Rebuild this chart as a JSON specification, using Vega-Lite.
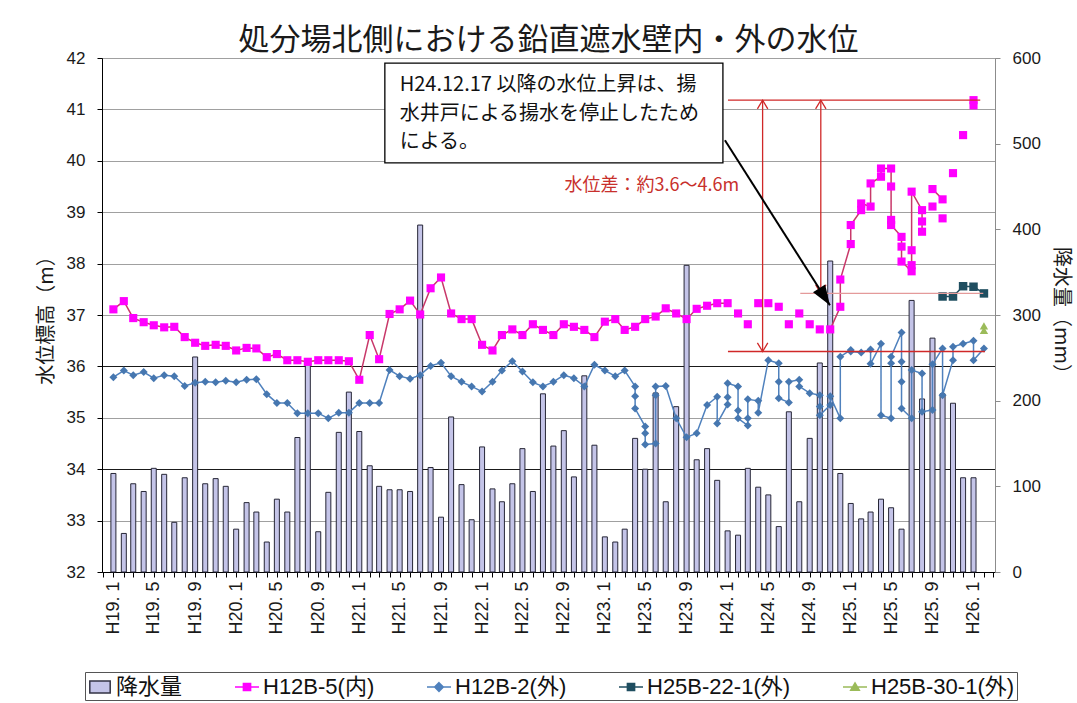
{
  "$schema": "https://vega.github.io/schema/vega-lite/v6.json",
  "width": 893,
  "height": 514,
  "autosize": {"type": "none"},
  "padding": {"left": 102, "top": 58, "right": 82, "bottom": 131},
  "background": "#ffffff",
  "config": {
    "view": {"stroke": "#8c8c8c"},
    "axis": {"labelFont": "Liberation Sans", "titleFont": "Noto Sans CJK JP", "titleFontWeight": "normal", "labelColor": "#1a1a1a", "titleColor": "#1a1a1a"}
  },
  "title": {"text": "処分場北側における鉛直遮水壁内・外の水位", "font": "Noto Sans CJK JP", "fontSize": 31, "fontWeight": "normal", "color": "#1a1a1a", "anchor": "middle", "frame": "group", "offset": -8},
  "datasets": {
    "rain": [
      {"date":"2007/01/01","rain":115},{"date":"2007/02/01","rain":45},{"date":"2007/03/01","rain":103},{"date":"2007/04/01","rain":94},{"date":"2007/05/01","rain":121},{"date":"2007/06/01","rain":114},{"date":"2007/07/01","rain":58},{"date":"2007/08/01","rain":110},{"date":"2007/09/01","rain":251},{"date":"2007/10/01","rain":103},{"date":"2007/11/01","rain":109},{"date":"2007/12/01","rain":100},
      {"date":"2008/01/01","rain":50},{"date":"2008/02/01","rain":81},{"date":"2008/03/01","rain":70},{"date":"2008/04/01","rain":35},{"date":"2008/05/01","rain":85},{"date":"2008/06/01","rain":70},{"date":"2008/07/01","rain":157},{"date":"2008/08/01","rain":242},{"date":"2008/09/01","rain":47},{"date":"2008/10/01","rain":93},{"date":"2008/11/01","rain":163},{"date":"2008/12/01","rain":210},
      {"date":"2009/01/01","rain":164},{"date":"2009/02/01","rain":124},{"date":"2009/03/01","rain":100},{"date":"2009/04/01","rain":96},{"date":"2009/05/01","rain":96},{"date":"2009/06/01","rain":94},{"date":"2009/07/01","rain":405},{"date":"2009/08/01","rain":122},{"date":"2009/09/01","rain":64},{"date":"2009/10/01","rain":181},{"date":"2009/11/01","rain":102},{"date":"2009/12/01","rain":61},
      {"date":"2010/01/01","rain":146},{"date":"2010/02/01","rain":97},{"date":"2010/03/01","rain":82},{"date":"2010/04/01","rain":103},{"date":"2010/05/01","rain":144},{"date":"2010/06/01","rain":94},{"date":"2010/07/01","rain":208},{"date":"2010/08/01","rain":147},{"date":"2010/09/01","rain":165},{"date":"2010/10/01","rain":111},{"date":"2010/11/01","rain":229},{"date":"2010/12/01","rain":148},
      {"date":"2011/01/01","rain":41},{"date":"2011/02/01","rain":35},{"date":"2011/03/01","rain":50},{"date":"2011/04/01","rain":156},{"date":"2011/05/01","rain":120},{"date":"2011/06/01","rain":209},{"date":"2011/07/01","rain":82},{"date":"2011/08/01","rain":193},{"date":"2011/09/01","rain":358},{"date":"2011/10/01","rain":131},{"date":"2011/11/01","rain":144},{"date":"2011/12/01","rain":107},
      {"date":"2012/01/01","rain":48},{"date":"2012/02/01","rain":43},{"date":"2012/03/01","rain":121},{"date":"2012/04/01","rain":99},{"date":"2012/05/01","rain":90},{"date":"2012/06/01","rain":53},{"date":"2012/07/01","rain":187},{"date":"2012/08/01","rain":82},{"date":"2012/09/01","rain":156},{"date":"2012/10/01","rain":244},{"date":"2012/11/01","rain":363},{"date":"2012/12/01","rain":115},
      {"date":"2013/01/01","rain":80},{"date":"2013/02/01","rain":62},{"date":"2013/03/01","rain":70},{"date":"2013/04/01","rain":85},{"date":"2013/05/01","rain":75},{"date":"2013/06/01","rain":50},{"date":"2013/07/01","rain":317},{"date":"2013/08/01","rain":202},{"date":"2013/09/01","rain":273},{"date":"2013/10/01","rain":208},{"date":"2013/11/01","rain":197},{"date":"2013/12/01","rain":110},
      {"date":"2014/01/01","rain":110}
    ],
    "h125": [
      {"date":"2007/01/01","level":37.11,"seg":"a","seq":1},{"date":"2007/02/01","level":37.27,"seg":"a","seq":2},{"date":"2007/03/01","level":36.94,"seg":"a","seq":3},{"date":"2007/04/01","level":36.86,"seg":"a","seq":4},{"date":"2007/05/01","level":36.80,"seg":"a","seq":5},{"date":"2007/06/01","level":36.76,"seg":"a","seq":6},{"date":"2007/07/01","level":36.77,"seg":"a","seq":7},{"date":"2007/08/01","level":36.57,"seg":"a","seq":8},{"date":"2007/09/01","level":36.46,"seg":"a","seq":9},{"date":"2007/10/01","level":36.40,"seg":"a","seq":10},{"date":"2007/11/01","level":36.42,"seg":"a","seq":11},{"date":"2007/12/01","level":36.40,"seg":"a","seq":12},
      {"date":"2008/01/01","level":36.31,"seg":"a","seq":13},{"date":"2008/02/01","level":36.36,"seg":"a","seq":14},{"date":"2008/03/01","level":36.35,"seg":"a","seq":15},{"date":"2008/04/01","level":36.18,"seg":"a","seq":16},{"date":"2008/05/01","level":36.24,"seg":"a","seq":17},{"date":"2008/06/01","level":36.12,"seg":"a","seq":18},{"date":"2008/07/01","level":36.12,"seg":"a","seq":19},{"date":"2008/08/01","level":36.09,"seg":"a","seq":20},{"date":"2008/09/01","level":36.12,"seg":"a","seq":21},{"date":"2008/10/01","level":36.12,"seg":"a","seq":22},{"date":"2008/11/01","level":36.12,"seg":"a","seq":23},{"date":"2008/12/01","level":36.10,"seg":"a","seq":24},
      {"date":"2009/01/01","level":35.74,"seg":"a","seq":25},{"date":"2009/02/01","level":36.61,"seg":"a","seq":26},{"date":"2009/03/01","level":36.14,"seg":"a","seq":27},{"date":"2009/04/01","level":37.02,"seg":"a","seq":28},{"date":"2009/05/01","level":37.11,"seg":"a","seq":29},{"date":"2009/06/01","level":37.28,"seg":"a","seq":30},{"date":"2009/07/01","level":37.01,"seg":"a","seq":31},{"date":"2009/08/01","level":37.52,"seg":"a","seq":32},{"date":"2009/09/01","level":37.73,"seg":"a","seq":33},{"date":"2009/10/01","level":37.03,"seg":"a","seq":34},{"date":"2009/11/01","level":36.92,"seg":"a","seq":35},{"date":"2009/12/01","level":36.92,"seg":"a","seq":36},
      {"date":"2010/01/01","level":36.42,"seg":"a","seq":37},{"date":"2010/02/01","level":36.31,"seg":"a","seq":38},{"date":"2010/03/01","level":36.61,"seg":"a","seq":39},{"date":"2010/04/01","level":36.72,"seg":"a","seq":40},{"date":"2010/05/01","level":36.61,"seg":"a","seq":41},{"date":"2010/06/01","level":36.82,"seg":"a","seq":42},{"date":"2010/07/01","level":36.71,"seg":"a","seq":43},{"date":"2010/08/01","level":36.61,"seg":"a","seq":44},{"date":"2010/09/01","level":36.82,"seg":"a","seq":45},{"date":"2010/10/01","level":36.77,"seg":"a","seq":46},{"date":"2010/11/01","level":36.71,"seg":"a","seq":47},{"date":"2010/12/01","level":36.57,"seg":"a","seq":48},
      {"date":"2011/01/01","level":36.87,"seg":"a","seq":49},{"date":"2011/02/01","level":36.92,"seg":"a","seq":50},{"date":"2011/03/01","level":36.71,"seg":"a","seq":51},{"date":"2011/04/01","level":36.77,"seg":"a","seq":52},{"date":"2011/05/01","level":36.92,"seg":"a","seq":53},{"date":"2011/06/01","level":36.97,"seg":"a","seq":54},{"date":"2011/07/01","level":37.13,"seg":"a","seq":55},{"date":"2011/08/01","level":37.03,"seg":"a","seq":56},{"date":"2011/09/01","level":36.92,"seg":"a","seq":57},{"date":"2011/10/01","level":37.12,"seg":"a","seq":58},{"date":"2011/11/01","level":37.18,"seg":"a","seq":59},{"date":"2011/12/01","level":37.23,"seg":"a","seq":60},
      {"date":"2012/01/01","level":37.23,"seg":"a","seq":61},
      {"date":"2012/02/01","level":37.03,"seq":62},{"date":"2012/03/01","level":36.82,"seq":63},{"date":"2012/04/01","level":37.23,"seq":64},{"date":"2012/05/01","level":37.23,"seq":65},{"date":"2012/06/01","level":37.16,"seq":66},{"date":"2012/07/01","level":36.82,"seq":67},{"date":"2012/08/01","level":37.03,"seq":68},{"date":"2012/09/01","level":36.82,"seq":69},{"date":"2012/10/01","level":36.72,"seq":70},
      {"date":"2012/11/01","level":36.72,"seg":"b","seq":71},{"date":"2012/12/01","level":37.16,"seg":"b","seq":72},{"date":"2012/12/01","level":37.69,"seg":"b","seq":73},
      {"date":"2013/01/01","level":38.38,"seg":"b","seq":74},{"date":"2013/01/01","level":38.75,"seg":"b","seq":75},{"date":"2013/02/01","level":39.04,"seg":"b","seq":76},{"date":"2013/02/01","level":39.17,"seg":"b","seq":77},{"date":"2013/03/01","level":39.11,"seg":"b","seq":78},{"date":"2013/03/01","level":39.56,"seg":"b","seq":79},{"date":"2013/04/01","level":39.69,"seg":"b","seq":80},{"date":"2013/04/01","level":39.85,"seg":"b","seq":81},
      {"date":"2013/05/01","level":39.85,"seg":"b","seq":82},{"date":"2013/05/01","level":39.50,"seg":"b","seq":83},{"date":"2013/05/01","level":38.85,"seg":"b","seq":84},{"date":"2013/05/01","level":38.75,"seg":"b","seq":85},{"date":"2013/06/01","level":38.52,"seg":"b","seq":86},{"date":"2013/06/01","level":38.33,"seg":"b","seq":87},{"date":"2013/06/01","level":38.04,"seg":"b","seq":88},
      {"date":"2013/07/01","level":37.85,"seg":"b","seq":89},{"date":"2013/07/01","level":37.97,"seg":"b","seq":90},{"date":"2013/07/01","level":38.26,"seg":"b","seq":91},{"date":"2013/07/01","level":39.40,"seg":"b","seq":92},{"date":"2013/08/01","level":39.04,"seg":"b","seq":93},{"date":"2013/08/01","level":38.82,"seg":"b","seq":94},{"date":"2013/08/01","level":38.62,"seg":"b","seq":95},
      {"date":"2013/09/01","level":39.45,"seg":"c","seq":96},{"date":"2013/10/01","level":39.25,"seg":"c","seq":97},
      {"date":"2013/09/01","level":39.11,"seq":98},{"date":"2013/10/01","level":38.88,"seq":99},{"date":"2013/11/01","level":39.76,"seq":100},{"date":"2013/12/01","level":40.50,"seq":101},{"date":"2014/01/01","level":41.18,"seq":102},{"date":"2014/01/01","level":41.08,"seq":103}
    ],
    "h122": [
      {"date":"2007/01/01","level":35.79,"seq":1},{"date":"2007/02/01","level":35.92,"seq":2},{"date":"2007/03/01","level":35.83,"seq":3},{"date":"2007/04/01","level":35.89,"seq":4},{"date":"2007/05/01","level":35.77,"seq":5},{"date":"2007/06/01","level":35.83,"seq":6},{"date":"2007/07/01","level":35.81,"seq":7},{"date":"2007/08/01","level":35.62,"seq":8},{"date":"2007/09/01","level":35.68,"seq":9},{"date":"2007/10/01","level":35.70,"seq":10},{"date":"2007/11/01","level":35.69,"seq":11},{"date":"2007/12/01","level":35.72,"seq":12},
      {"date":"2008/01/01","level":35.69,"seq":13},{"date":"2008/02/01","level":35.74,"seq":14},{"date":"2008/03/01","level":35.75,"seq":15},{"date":"2008/04/01","level":35.46,"seq":16},{"date":"2008/05/01","level":35.29,"seq":17},{"date":"2008/06/01","level":35.29,"seq":18},{"date":"2008/07/01","level":35.09,"seq":19},{"date":"2008/08/01","level":35.09,"seq":20},{"date":"2008/09/01","level":35.09,"seq":21},{"date":"2008/10/01","level":34.99,"seq":22},{"date":"2008/11/01","level":35.10,"seq":23},{"date":"2008/12/01","level":35.10,"seq":24},
      {"date":"2009/01/01","level":35.29,"seq":25},{"date":"2009/02/01","level":35.29,"seq":26},{"date":"2009/03/01","level":35.29,"seq":27},{"date":"2009/04/01","level":35.93,"seq":28},{"date":"2009/05/01","level":35.81,"seq":29},{"date":"2009/06/01","level":35.76,"seq":30},{"date":"2009/07/01","level":35.83,"seq":31},{"date":"2009/08/01","level":36.01,"seq":32},{"date":"2009/09/01","level":36.07,"seq":33},{"date":"2009/10/01","level":35.81,"seq":34},{"date":"2009/11/01","level":35.70,"seq":35},{"date":"2009/12/01","level":35.61,"seq":36},
      {"date":"2010/01/01","level":35.51,"seq":37},{"date":"2010/02/01","level":35.70,"seq":38},{"date":"2010/03/01","level":35.92,"seq":39},{"date":"2010/04/01","level":36.10,"seq":40},{"date":"2010/05/01","level":35.90,"seq":41},{"date":"2010/06/01","level":35.69,"seq":42},{"date":"2010/07/01","level":35.61,"seq":43},{"date":"2010/08/01","level":35.70,"seq":44},{"date":"2010/09/01","level":35.83,"seq":45},{"date":"2010/10/01","level":35.77,"seq":46},{"date":"2010/11/01","level":35.61,"seq":47},{"date":"2010/12/01","level":36.03,"seq":48},
      {"date":"2011/01/01","level":35.92,"seq":49},{"date":"2011/02/01","level":35.81,"seq":50},{"date":"2011/03/01","level":35.92,"seq":51},
      {"date":"2011/04/01","level":35.61,"seq":52},{"date":"2011/04/01","level":35.42,"seq":53},{"date":"2011/04/01","level":35.18,"seq":54},
      {"date":"2011/05/01","level":34.83,"seq":55},{"date":"2011/05/01","level":34.70,"seq":56},{"date":"2011/05/01","level":34.48,"seq":57},
      {"date":"2011/06/01","level":34.50,"seq":58},{"date":"2011/06/01","level":35.44,"seq":59},{"date":"2011/06/01","level":35.61,"seq":60},
      {"date":"2011/07/01","level":35.62,"seq":61},{"date":"2011/08/01","level":34.99,"seq":62},{"date":"2011/09/01","level":34.62,"seq":63},{"date":"2011/10/01","level":34.70,"seq":64},{"date":"2011/11/01","level":35.25,"seq":65},
      {"date":"2011/12/01","level":35.41,"seq":66},{"date":"2011/12/01","level":34.89,"seq":67},
      {"date":"2012/01/01","level":35.26,"seq":68},{"date":"2012/01/01","level":35.40,"seq":69},{"date":"2012/01/01","level":35.67,"seq":70},
      {"date":"2012/02/01","level":35.61,"seq":71},{"date":"2012/02/01","level":35.14,"seq":72},{"date":"2012/02/01","level":34.99,"seq":73},
      {"date":"2012/03/01","level":34.85,"seq":74},{"date":"2012/03/01","level":34.99,"seq":75},{"date":"2012/03/01","level":35.36,"seq":76},
      {"date":"2012/04/01","level":35.33,"seq":77},{"date":"2012/04/01","level":35.10,"seq":78},
      {"date":"2012/05/01","level":36.12,"seq":79},
      {"date":"2012/06/01","level":36.06,"seq":80},{"date":"2012/06/01","level":35.70,"seq":81},{"date":"2012/06/01","level":35.38,"seq":82},
      {"date":"2012/07/01","level":35.30,"seq":83},{"date":"2012/07/01","level":35.70,"seq":84},
      {"date":"2012/08/01","level":35.74,"seq":85},{"date":"2012/08/01","level":35.61,"seq":86},
      {"date":"2012/09/01","level":35.48,"seq":87},
      {"date":"2012/10/01","level":35.44,"seq":88},{"date":"2012/10/01","level":35.22,"seq":89},{"date":"2012/10/01","level":35.05,"seq":90},
      {"date":"2012/11/01","level":35.25,"seq":91},{"date":"2012/11/01","level":35.42,"seq":92},
      {"date":"2012/12/01","level":34.99,"seq":93},{"date":"2012/12/01","level":36.19,"seq":94},
      {"date":"2013/01/01","level":36.32,"seq":95},{"date":"2013/01/01","level":36.29,"seq":96},
      {"date":"2013/02/01","level":36.27,"seq":97},
      {"date":"2013/03/01","level":36.33,"seq":98},{"date":"2013/03/01","level":36.05,"seq":99},
      {"date":"2013/04/01","level":36.44,"seq":100},{"date":"2013/04/01","level":35.05,"seq":101},
      {"date":"2013/05/01","level":34.99,"seq":102},{"date":"2013/05/01","level":36.06,"seq":103},{"date":"2013/05/01","level":36.19,"seq":104},
      {"date":"2013/06/01","level":36.66,"seq":105},{"date":"2013/06/01","level":36.09,"seq":106},{"date":"2013/06/01","level":35.70,"seq":107},{"date":"2013/06/01","level":35.18,"seq":108},
      {"date":"2013/07/01","level":34.99,"seq":109},{"date":"2013/07/01","level":35.93,"seq":110},
      {"date":"2013/08/01","level":35.86,"seq":111},{"date":"2013/08/01","level":35.12,"seq":112},
      {"date":"2013/09/01","level":35.15,"seq":113},{"date":"2013/09/01","level":36.04,"seq":114},
      {"date":"2013/10/01","level":36.35,"seq":115},{"date":"2013/10/01","level":35.44,"seq":116},
      {"date":"2013/11/01","level":36.12,"seq":117},{"date":"2013/11/01","level":36.38,"seq":118},
      {"date":"2013/12/01","level":36.44,"seq":119},
      {"date":"2014/01/01","level":36.50,"seq":120},{"date":"2014/01/01","level":36.12,"seq":121},
      {"date":"2014/02/01","level":36.35,"seq":122}
    ],
    "h25b22": [
      {"date":"2013/10/01","level":37.36},{"date":"2013/11/01","level":37.36},{"date":"2013/12/01","level":37.56},{"date":"2014/01/01","level":37.55},{"date":"2014/02/01","level":37.42}
    ],
    "h25b30": [
      {"date":"2014/02/01","level":36.79},{"date":"2014/02/01","level":36.70}
    ],
    "box": [
      {"date":"2009/03/18","date2":"2011/12/18","level":41.90,"level2":39.96}
    ],
    "notes": [
      {"date":"2009/05/01","level":41.48,"text":"H24.12.17 以降の水位上昇は、揚"},
      {"date":"2009/05/01","level":40.92,"text":"水井戸による揚水を停止したため"},
      {"date":"2009/05/01","level":40.37,"text":"による。"}
    ],
    "diffText": [
      {"date":"2011/05/21","level":39.51,"text":"水位差：約3.6～4.6m"}
    ],
    "redLines": [
      {"date":"2012/01/02","date2":"2014/01/21","level":41.18,"level2":41.18},
      {"date":"2012/01/02","date2":"2014/02/04","level":36.29,"level2":36.29},
      {"date":"2012/04/14","date2":"2012/04/14","level":41.18,"level2":36.29},
      {"date":"2012/10/04","date2":"2012/10/04","level":41.18,"level2":37.42}
    ],
    "pinkLine": [
      {"date":"2012/08/04","date2":"2014/01/30","level":37.42,"level2":37.42}
    ],
    "arrowUp": [
      {"date":"2012/04/14","level":41.18},{"date":"2012/10/04","level":41.18}
    ],
    "arrowDown": [
      {"date":"2012/04/14","level":36.29},{"date":"2012/10/04","level":37.42}
    ],
    "pointer": [
      {"date":"2011/12/24","date2":"2012/10/31","level":40.40,"level2":37.19}
    ],
    "pointerHead": [
      {"date":"2012/10/31","level":37.19}
    ],
    "legend": [
      {"series":"降水量"},{"series":"H12B-5(内)"},{"series":"H12B-2(外)"},{"series":"H25B-22-1(外)"},{"series":"H25B-30-1(外)"}
    ]
  },
  "encoding": {
    "x": {
      "field": "date", "type": "temporal",
      "scale": {"domain": [{"year": 2006, "month": 12, "date": 13}, {"year": 2014, "month": 2, "date": 19}]},
      "axis": {
        "title": null,
        "tickCount": {"interval": "month", "step": 1},
        "labelExpr": "month(datum.value) % 4 == 0 ? 'H' + (year(datum.value) - 1988) + '. ' + (month(datum.value) + 1) : ''",
        "labelAngle": 270, "labelFontSize": 18, "labelOverlap": false, "labelFlush": false, "labelBound": false,
        "grid": false, "domainColor": "#000000", "tickColor": "#000000", "tickSize": 5, "labelPadding": 4
      }
    }
  },
  "layer": [
    {
      "data": {"name": "rain"},
      "mark": {"type": "bar", "size": 5, "fill": "#c4c4e8", "stroke": "#262636", "strokeWidth": 1},
      "encoding": {
        "y": {
          "field": "rain", "type": "quantitative",
          "scale": {"domain": [0, 600], "nice": false},
          "axis": {"orient": "right", "values": [0, 100, 200, 300, 400, 500, 600], "title": "降水量（mm）", "titleFontSize": 20, "titlePadding": 10, "labelFontSize": 17, "labelPadding": 12, "tickSize": 5, "grid": false, "domainColor": "#8c8c8c", "tickColor": "#8c8c8c"}
        }
      }
    },
    {
      "encoding": {
        "y": {
          "field": "level", "type": "quantitative",
          "scale": {"domain": [32, 42], "nice": false, "zero": false},
          "axis": {
            "orient": "left", "values": [32, 33, 34, 35, 36, 37, 38, 39, 40, 41, 42],
            "title": "水位標高（m）", "titleFontSize": 20, "titlePadding": 10,
            "labelFontSize": 17, "labelPadding": 12, "tickSize": 5,
            "grid": true,
            "gridColor": {"condition": {"test": "datum.value === 34 || datum.value === 36", "value": "#1a1a1a"}, "value": "#a0a0a0"},
            "domainColor": "#000000", "tickColor": "#000000"
          }
        }
      },
      "layer": [
        {
          "data": {"name": "h125"},
          "transform": [{"filter": "isValid(datum.seg)"}],
          "mark": {"type": "line", "color": "#c8386a", "strokeWidth": 1.5},
          "encoding": {"detail": {"field": "seg", "type": "nominal"}, "order": {"field": "seq", "type": "quantitative"}}
        },
        {
          "data": {"name": "h122"},
          "mark": {"type": "line", "color": "#4f81bd", "strokeWidth": 1.5},
          "encoding": {"order": {"field": "seq", "type": "quantitative"}}
        },
        {
          "data": {"name": "h122"},
          "mark": {"type": "point", "shape": "diamond", "filled": true, "color": "#4677b0", "size": 64, "opacity": 1}
        },
        {
          "data": {"name": "h125"},
          "mark": {"type": "point", "shape": "square", "filled": true, "color": "#ff00ff", "size": 66, "opacity": 1}
        },
        {
          "data": {"name": "h25b22"},
          "mark": {"type": "line", "color": "#1f4e60", "strokeWidth": 1.5},
          "encoding": {}
        },
        {
          "data": {"name": "h25b22"},
          "mark": {"type": "point", "shape": "square", "filled": true, "color": "#1f4e60", "size": 72, "opacity": 1}
        },
        {
          "data": {"name": "h25b30"},
          "mark": {"type": "point", "shape": "triangle-up", "filled": true, "color": "#9bbb59", "size": 70, "opacity": 1}
        },
        {
          "data": {"name": "redLines", "format": {"parse": {"date": "date", "date2": "date"}}},
          "mark": {"type": "rule", "color": "#d02828", "strokeWidth": 1.3},
          "encoding": {"x2": {"field": "date2"}, "y2": {"field": "level2"}}
        },
        {
          "data": {"name": "pinkLine", "format": {"parse": {"date": "date", "date2": "date"}}},
          "mark": {"type": "rule", "color": "#e49a9a", "strokeWidth": 1.2},
          "encoding": {"x2": {"field": "date2"}, "y2": {"field": "level2"}}
        },
        {
          "data": {"name": "arrowUp"},
          "mark": {"type": "point", "shape": "M-0.6,1L0,0L0.6,1", "size": 300, "filled": false, "color": "#d02828", "strokeWidth": 1.3, "opacity": 1}
        },
        {
          "data": {"name": "arrowDown"},
          "mark": {"type": "point", "shape": "M-0.6,-1L0,0L0.6,-1", "size": 300, "filled": false, "color": "#d02828", "strokeWidth": 1.3, "opacity": 1}
        },
        {
          "data": {"name": "diffText"},
          "mark": {"type": "text", "font": "Noto Sans CJK JP", "fontSize": 18, "color": "#c8302c", "align": "center", "baseline": "middle"},
          "encoding": {"text": {"field": "text"}}
        },
        {
          "data": {"name": "box", "format": {"parse": {"date": "date", "date2": "date"}}},
          "mark": {"type": "rect", "fill": "#ffffff", "stroke": "#000000", "strokeWidth": 1.3},
          "encoding": {"x2": {"field": "date2"}, "y2": {"field": "level2"}}
        },
        {
          "data": {"name": "notes"},
          "mark": {"type": "text", "font": "Noto Sans CJK JP", "fontSize": 20, "color": "#111111", "align": "left", "baseline": "middle"},
          "encoding": {"text": {"field": "text"}}
        },
        {
          "data": {"name": "pointer", "format": {"parse": {"date": "date", "date2": "date"}}},
          "mark": {"type": "rule", "color": "#000000", "strokeWidth": 2},
          "encoding": {"x2": {"field": "date2"}, "y2": {"field": "level2"}}
        },
        {
          "data": {"name": "pointerHead"},
          "mark": {"type": "point", "shape": "M0,0L-0.36,-1L0.36,-1Z", "size": 1600, "filled": true, "color": "#000000", "angle": -32.7, "opacity": 1}
        },
        {
          "data": {"name": "legend"},
          "mark": {"type": "point", "filled": true, "opacity": 0},
          "encoding": {
            "color": {
              "field": "series", "type": "nominal",
              "scale": {"domain": ["降水量", "H12B-5(内)", "H12B-2(外)", "H25B-22-1(外)", "H25B-30-1(外)"], "range": ["#c4c4e8", "#ff00ff", "#4f81bd", "#1f4e60", "#9bbb59"]},
              "legend": {
                "orient": "none", "legendX": -17, "legendY": 614, "direction": "horizontal", "columns": 5,
                "title": null, "symbolSize": 576, "symbolStrokeWidth": 1.5, "symbolOpacity": 1,
                "labelFont": "Liberation Sans, Noto Sans CJK JP", "labelFontSize": 22, "labelColor": "#111111", "labelLimit": 400,
                "columnPadding": 49, "padding": 2, "strokeColor": "#555555", "fillColor": "#ffffff", "labelOffset": 3,
                "encode": {"symbols": {"update": {
                  "shape": {"scale": "shape", "field": "value"},
                  "stroke": {"signal": "datum.value === '降水量' ? '#333344' : scale('color', datum.value)"},
                  "opacity": {"value": 1}
                }}}
              }
            },
            "shape": {
              "field": "series", "type": "nominal",
              "scale": {"domain": ["降水量", "H12B-5(内)", "H12B-2(外)", "H25B-22-1(外)", "H25B-30-1(外)"], "range": ["M-0.85,-0.5H0.85V0.5H-0.85Z", "M-1,0H1M-0.3,-0.3H0.3V0.3H-0.3Z", "M-1,0H1M0,-0.36L0.36,0L0,0.36L-0.36,0Z", "M-1,0H1M-0.3,-0.3H0.3V0.3H-0.3Z", "M-1,0H1M0,-0.34L0.36,0.28L-0.36,0.28Z"]},
              "legend": null
            }
          }
        }
      ]
    }
  ],
  "resolve": {"scale": {"y": "independent"}}
}
